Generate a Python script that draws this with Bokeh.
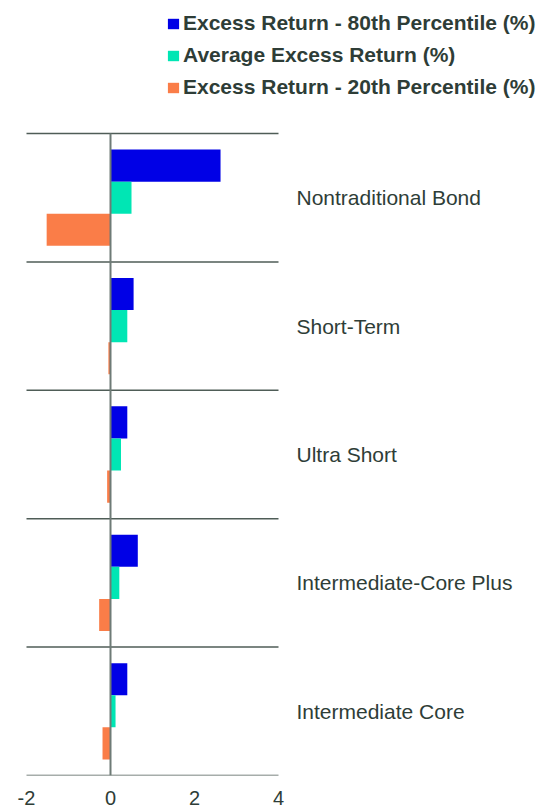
from bokeh.plotting import figure
from bokeh.models import (ColumnDataSource, Range1d, FixedTicker,
                          Legend, LegendItem)
from bokeh.core.properties import value
from bokeh.embed import file_html
from bokeh.resources import INLINE

categories = ["Nontraditional Bond", "Short-Term", "Ultra Short",
              "Intermediate-Core Plus", "Intermediate Core"]
p80 = [2.62, 0.55, 0.40, 0.65, 0.40]
avg = [0.50, 0.40, 0.25, 0.21, 0.12]
p20 = [-1.52, -0.05, -0.08, -0.27, -0.19]
series_names = ["Excess Return - 80th Percentile (%)",
                "Average Excess Return (%)",
                "Excess Return - 20th Percentile (%)"]
x_ticks = [-2, 0, 2, 4]
x_tick_labels = ["-2", "0", "2", "4"]

colors = ["#0000e6", "#00e6b4", "#fa7d48"]
text_color = "#2e3d37"
line_color = "#4f5d57"
font = "Liberation Sans"

n = len(categories)
centers = [n - i - 0.5 for i in range(n)]
offsets = [0.25, 0.0, -0.25]
x_lo, x_hi = x_ticks[0], x_ticks[-1]
# frame padding (in data units) so that the legend and labels sit inside it
left_pad, right_pad, legend_room = 26 / 42, 266 / 42, 1.036

p = figure(width=544, height=808, output_backend="svg", toolbar_location=None,
           x_range=Range1d(x_lo - left_pad, x_hi + right_pad),
           y_range=Range1d(0, n + legend_room),
           min_border_left=0, min_border_right=0,
           min_border_top=0, min_border_bottom=33)
p.outline_line_color = None
p.background_fill_color = None
p.border_fill_color = "white"
p.grid.visible = False
p.yaxis.visible = False

# band separators
seps = list(range(n + 1))
p.segment(x0=[x_lo] * len(seps), y0=seps, x1=[x_hi] * len(seps), y1=seps,
          line_color=line_color, line_width=1.5)

renderers = []
for vals, off, col in zip([p80, avg, p20], offsets, colors):
    src = ColumnDataSource(dict(y=[c + off for c in centers], right=vals,
                                left=[0] * n))
    r = p.hbar(y="y", left="left", right="right", height=0.25, source=src,
               fill_color=col, line_color=None)
    renderers.append(r)

# zero line spanning the category bands
p.segment(x0=[0], y0=[0], x1=[0], y1=[n], line_color="#6e7b76", line_width=2)

# category labels to the right of the chart
p.text(x=[x_hi] * n, y=centers, text=categories, x_offset=18,
       text_font=value(font), text_font_size="21px", text_color=text_color,
       text_align="left", text_baseline="middle")

xa = p.xaxis[0]
xa.ticker = FixedTicker(ticks=x_ticks)
xa.major_label_overrides = {t: s for t, s in zip(x_ticks, x_tick_labels)}
xa.axis_line_color = None
xa.major_tick_line_color = None
xa.major_tick_out = 0
xa.major_tick_in = 0
xa.minor_tick_line_color = None
xa.major_label_text_font = font
xa.major_label_text_font_size = "20px"
xa.major_label_text_color = text_color
xa.major_label_standoff = 15

legend = Legend(items=[LegendItem(label=nm, renderers=[r])
                       for nm, r in zip(series_names, renderers)],
                location=(166, 676), orientation="vertical",
                glyph_width=14, glyph_height=13, label_standoff=3,
                label_height=22, spacing=8, padding=0, margin=0,
                border_line_color=None, background_fill_alpha=0,
                label_text_font=font, label_text_font_size="21px",
                label_text_font_style="bold", label_text_color=text_color)
p.add_layout(legend, "center")

open("out.html", "w").write(file_html(p, INLINE))
